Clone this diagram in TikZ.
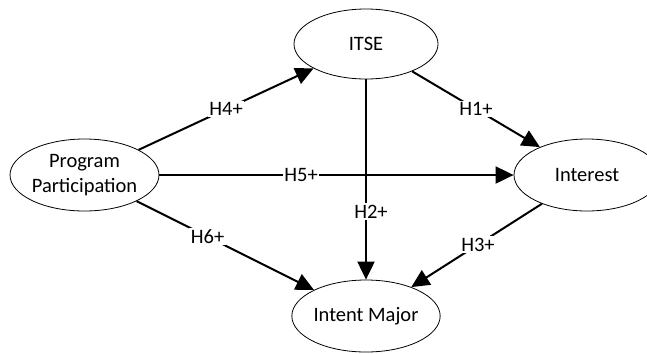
\documentclass[tikz,border=0pt]{standalone}
\usepackage{fontspec}
\setmainfont{Carlito}
\usetikzlibrary{shapes.geometric,arrows.meta}
\begin{document}
\begin{tikzpicture}[x=1bp,y=-1bp,
  latent/.style={ellipse,draw,line width=0.8bp,inner sep=0pt,
    font=\fontsize{20.5bp}{25bp}\selectfont,align=center},
  link/.style={line width=2bp,-{Triangle[length=18bp,width=17bp]}},
  hyp/.style={fill=white,inner sep=1.5bp,font=\fontsize{20.5bp}{24bp}\selectfont}]
\useasboundingbox (0,0) rectangle (647,353);
\node[latent,minimum width=145bp,minimum height=72bp] (pp) at (84.5,175) {Program\\Participation};
\node[latent,minimum width=144bp,minimum height=70bp] (itse) at (366,44) {ITSE};
\node[latent,minimum width=146bp,minimum height=72bp] (int) at (587,175) {Interest};
\node[latent,minimum width=145bp,minimum height=72bp] (im) at (366,316) {Intent Major};
\draw[link] (pp) -- node[hyp,pos=0.5] {H4+} (itse);
\draw[link] (itse) -- node[hyp,pos=0.5] {H1+} (int);
\draw[link] (pp) -- node[hyp,pos=0.4] {H5+} (int);
\draw[link] (itse) -- node[hyp,pos=0.66,xshift=5bp] {H2+} (im);
\draw[link] (pp) -- node[hyp,pos=0.4] {H6+} (im);
\draw[link] (int) -- node[hyp,pos=0.49] {H3+} (im);
\end{tikzpicture}
\end{document}
